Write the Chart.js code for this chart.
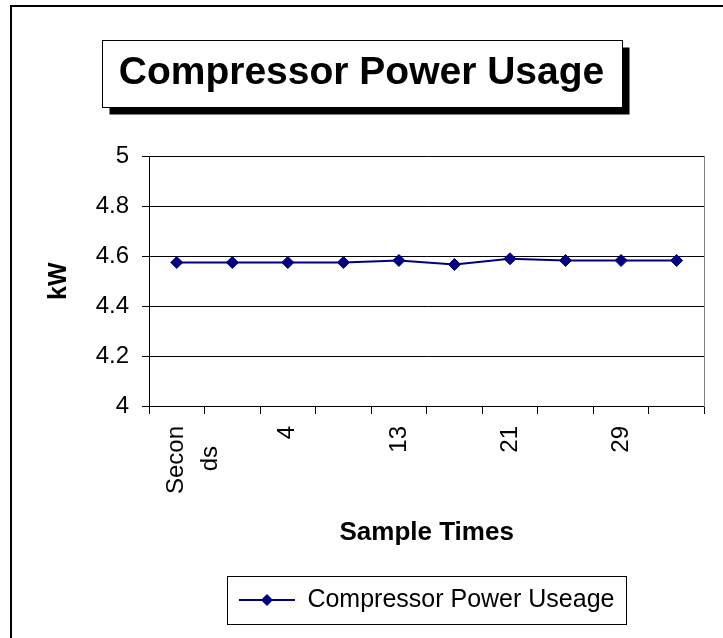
<!DOCTYPE html>
<html>
<head>
<meta charset="utf-8">
<title>Compressor Power Usage</title>
<script src="https://cdn.jsdelivr.net/npm/chart.js@4/dist/chart.umd.min.js"></script>
<style>
  html, body { margin: 0; padding: 0; background: #fff; }
  canvas { display: block; }
</style>
</head>
<body>
<canvas id="powerChart" width="723" height="638"></canvas>
<script>
// sample times along the x axis (only every other one is labelled in the original)
const sampleTimes = [['Secon', 'ds   '], '', '4', '', '13', '', '21', '', '29', '']
// compressor power, kW
const powerKw = [4.575, 4.575, 4.575, 4.575, 4.583, 4.567, 4.590, 4.583, 4.583, 4.583]
// y axis range
const kwMin = 4
const kwMax = 5
const kwStep = 0.2

const navy = '#000080'
const fontFamily = '"Liberation Sans", Arial, sans-serif'
const titleSize = 39
const titlePad = { top: 49.6, bottom: 60 }

// legend symbol: short line with a diamond in the middle
const legendSymbol = document.createElement('canvas')
legendSymbol.width = 56
legendSymbol.height = 16
const sctx = legendSymbol.getContext('2d')
sctx.strokeStyle = navy
sctx.lineWidth = 2
sctx.beginPath()
sctx.moveTo(0, 8)
sctx.lineTo(56, 8)
sctx.stroke()
sctx.fillStyle = navy
sctx.beginPath()
sctx.moveTo(28, 2)
sctx.lineTo(34, 8)
sctx.lineTo(28, 14)
sctx.lineTo(22, 8)
sctx.closePath()
sctx.fill()

// outer frame, shadowed title box and legend box
const framePlugin = {
  id: 'framePlugin',
  beforeDraw(chart) {
    const { ctx, titleBlock } = chart
    ctx.save()
    ctx.fillStyle = '#fff'
    ctx.fillRect(0, 0, chart.width, chart.height)

    ctx.strokeStyle = '#000'
    ctx.lineWidth = 2
    ctx.strokeRect(11, 6, chart.width + 20, chart.height + 20)

    // title box
    ctx.font = 'bold ' + titleSize + 'px ' + fontFamily
    const tw = ctx.measureText(titleBlock.options.text).width
    const cx = (titleBlock.left + titleBlock.right) / 2
    const cy = titleBlock.top + titlePad.top + titleSize * 1.2 / 2
    const bx = Math.round(cx - tw / 2 - 17) + 0.5
    const by = Math.round(cy - 33) + 0.5
    const bw = Math.round(tw + 34)
    const bh = 67
    ctx.fillStyle = '#000'
    ctx.fillRect(bx + 7, by + 7, bw, bh)
    ctx.fillStyle = '#fff'
    ctx.fillRect(bx, by, bw, bh)
    ctx.lineWidth = 1
    ctx.strokeStyle = '#000'
    ctx.strokeRect(bx, by, bw, bh)
    ctx.restore()
  },
  afterDraw(chart) {
    const box = chart.legend.legendHitBoxes[0]
    if (!box) return
    const { ctx } = chart
    ctx.save()
    ctx.strokeStyle = '#000'
    ctx.lineWidth = 1
    const cy = box.top + box.height / 2
    ctx.strokeRect(Math.round(box.left - 12) + 0.5, Math.round(cy - 24) + 0.5, Math.round(box.width + 23), 48)
    ctx.restore()
  }
}

Chart.defaults.font.family = fontFamily
Chart.defaults.color = '#000'

const data = {
  labels: sampleTimes,
  datasets: [{
    label: 'Compressor Power Useage',
    data: powerKw,
    borderColor: navy,
    backgroundColor: navy,
    borderWidth: 2,
    tension: 0,
    pointStyle: 'rectRot',
    pointRadius: 6,
    pointBorderWidth: 1,
    pointBackgroundColor: navy,
    pointBorderColor: navy,
  }]
}

const config = {
  type: 'line',
  data: data,
  options: {
    responsive: false,
    animation: false,
    layout: { padding: { left: 0, right: 0, top: 0, bottom: 15.5 } },
    plugins: {
      title: {
        display: true,
        text: 'Compressor Power Usage',
        color: '#000',
        font: { size: titleSize, weight: 'bold' },
        padding: titlePad,
      },
      legend: {
        position: 'bottom',
        fullSize: false,
        labels: {
          usePointStyle: true,
          pointStyle: legendSymbol,
          pointStyleWidth: 56,
          padding: 10,
          color: '#000',
          font: { size: 25 },
        },
      },
      tooltip: { enabled: false },
    },
    scales: {
      x: {
        offset: true,
        grid: {
          offset: true,
          drawOnChartArea: false,
          drawTicks: true,
          tickLength: 8,
          color: '#000',
        },
        border: { color: '#000', width: 1 },
        ticks: {
          autoSkip: false,
          maxRotation: 90,
          minRotation: 90,
          padding: 12,
          color: '#000',
          font: { size: 24, lineHeight: 1.4 },
        },
        title: {
          display: true,
          text: 'Sample Times',
          color: '#000',
          font: { size: 26, weight: 'bold' },
          padding: { top: 0, bottom: 29 },
        },
        afterFit: (scale) => { scale.height = 171.5 },
      },
      y: {
        min: kwMin,
        max: kwMax,
        grid: {
          color: '#000',
          lineWidth: 1,
          drawTicks: true,
          tickLength: 7,
        },
        border: { color: '#000', width: 1 },
        ticks: {
          stepSize: kwStep,
          padding: 13,
          color: '#000',
          font: { size: 24 },
          callback: (value) => String(Number(value.toFixed(1))),
        },
        title: {
          display: true,
          text: 'kW',
          color: '#000',
          font: { size: 25, weight: 'bold' },
          padding: { top: 44, bottom: 0 },
        },
        afterFit: (scale) => { scale.width = 149 },
      },
      // empty right axis: gives the grey right edge of the plot area
      yRight: {
        position: 'right',
        min: kwMin,
        max: kwMax,
        grid: { drawOnChartArea: false, drawTicks: false },
        border: { color: '#808080', width: 1 },
        ticks: { display: false },
        afterFit: (scale) => { scale.width = 16 },
      },
    },
  },
  plugins: [framePlugin],
}

const powerChart = new Chart(
  document.getElementById('powerChart'),
  config
  )
</script>
</body>
</html>
